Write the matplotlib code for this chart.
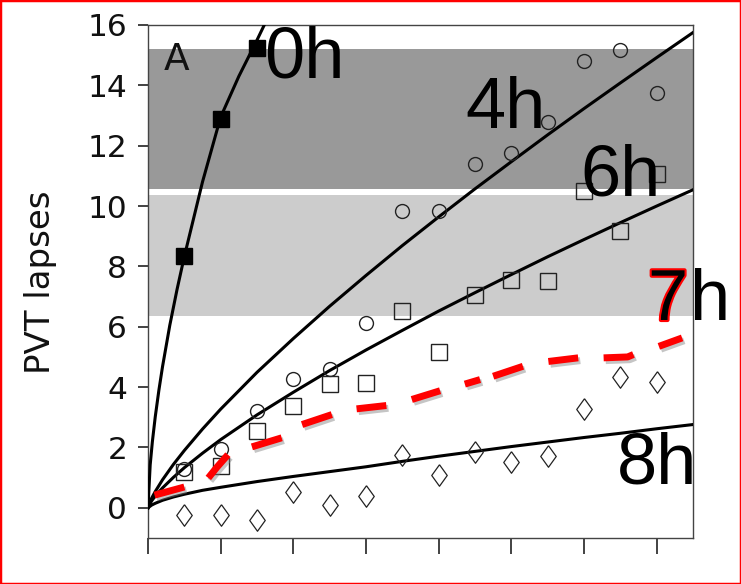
import numpy as np
import matplotlib.pyplot as plt
import matplotlib.patheffects as pe
import matplotlib.transforms as mtransforms
from matplotlib.patches import Rectangle

# Messzeitpunkte (Tage)
tage = np.arange(0.5, 7.5, 0.5)
tage_0h = [0.5, 1.0, 1.5]

# Messwerte PVT lapses
lapses_0h = [8.33, 12.9, 15.25]
lapses_4h = [1.3, 1.95, 3.2, 4.27, 4.61, 6.13, 9.82, 9.82, 11.4, 11.75, 12.8, 14.82, 15.18, 13.76]
lapses_6h = [1.2, 1.38, 2.54, 3.39, 4.1, 4.15, 6.51, 5.15, 7.06, 7.56, 7.53, 10.5, 9.19, 11.07]
lapses_8h = [-0.25, -0.25, -0.39, 0.53, 0.11, 0.38, 1.74, 1.08, 1.85, 1.51, 1.71, 3.28, 4.33, 4.17]

# Angepasste Kurven
kurve0_x = [0, 0.03, 0.06, 0.1, 0.15, 0.2, 0.3, 0.4, 0.5, 0.75, 1.0, 1.25, 1.5, 1.65]
kurve_0h = [0, 1.42, 2.19, 3.02, 3.9, 4.68, 6.05, 7.24, 8.33, 10.8, 12.95, 14.3, 15.5, 16.25]
kurve_x = [0, 0.05, 0.1, 0.2, 0.35, 0.5, 0.75, 1, 1.5, 2, 2.5, 3, 3.5, 4, 4.5, 5, 5.5, 6, 6.5, 7, 7.5]
kurve_4h = [0, 0.32, 0.54, 0.93, 1.44, 1.90, 2.61, 3.27, 4.49, 5.61, 6.68, 7.70, 8.69, 9.64,
            10.57, 11.47, 12.36, 13.23, 14.08, 14.92, 15.75]
kurve_6h = [0, 0.23, 0.39, 0.66, 1.01, 1.33, 1.81, 2.26, 3.08, 3.83, 4.55, 5.23, 5.88, 6.52,
            7.13, 7.73, 8.32, 8.89, 9.45, 10.00, 10.54]
kurve_8h = [0, 0.09, 0.15, 0.25, 0.36, 0.45, 0.58, 0.68, 0.87, 1.04, 1.20, 1.36, 1.54, 1.71,
            1.87, 2.03, 2.18, 2.33, 2.47, 2.62, 2.76]

# Von Hand eingezeichneter Verlauf fuer 7h, Striche durch nan getrennt
nan = np.nan
kurve7_x = [0.09, 0.5, nan, 0.83, 0.95, 1.1, nan, 1.43, 1.84, nan, 2.12, 2.53, nan,
            2.87, 3.28, nan, 3.63, 4.02, nan, 4.36, 4.57, nan, 4.75, 5.16, nan,
            5.51, 5.92, nan, 6.27, 6.6, 6.68, nan, 7.03, 7.35]
kurve_7h = [0.42, 0.69, nan, 0.99, 1.35, 1.76, nan, 2.02, 2.32, nan, 2.76, 3.09, nan,
            3.28, 3.39, nan, 3.59, 3.88, nan, 4.1, 4.25, nan, 4.36, 4.69, nan,
            4.85, 4.97, nan, 4.97, 5.0, 5.08, nan, 5.35, 5.63]

# Bereiche
band_dunkel = (10.55, 15.22)
band_hell = (6.35, 10.38)

W, H = 741, 584
fig = plt.figure(figsize=(W / 100, H / 100), dpi=100)
ax = fig.add_axes([148 / W, 1 - 538 / H, 545 / W, 513 / H])


def px(x, y):
    return x / W, 1 - y / H


ax.axhspan(*band_dunkel, color='#999999', lw=0, zorder=0)
ax.axhspan(*band_hell, color='#cccccc', lw=0, zorder=0)

ax.plot(kurve0_x, kurve_0h, color='black', lw=2.2, zorder=3)
ax.plot(kurve_x, kurve_4h, color='black', lw=2.2, zorder=3)
ax.plot(kurve_x, kurve_6h, color='black', lw=2.2, zorder=3)
ax.plot(kurve_x, kurve_8h, color='black', lw=2.2, zorder=3)

ax.plot(tage_0h, lapses_0h, 's', color='black', ms=11.5, zorder=4)
ax.plot(tage, lapses_4h, 'o', mfc='none', mec='#222222', mew=1.0, ms=10, zorder=4)
ax.plot(tage, lapses_6h, 's', mfc='none', mec='#222222', mew=1.0, ms=11.5, zorder=4)
raute = [(0, 1), (0.72, 0), (0, -1), (-0.72, 0), (0, 1)]
ax.plot(tage, lapses_8h, linestyle='none', marker=raute, mfc='none', mec='#222222',
        mew=0.9, ms=15.5, zorder=4)

# 7h mit leichtem Schatten
schatten = mtransforms.offset_copy(ax.transData, fig=fig, x=1.5, y=-2.0, units='points')
ax.plot(kurve7_x, kurve_7h, color='gray', alpha=0.45, lw=5, solid_capstyle='butt',
        transform=schatten, zorder=5)
ax.plot(kurve7_x, kurve_7h, color='red', lw=5, solid_capstyle='butt', zorder=5)

ax.set_xlim(0, 7.5)
ax.set_ylim(-1, 16)
ax.set_xticks(range(8))
ax.set_xticklabels([])
ax.set_yticks(range(0, 17, 2))
ax.tick_params(axis='x', direction='out', length=11.5, width=1.2, color='#222222')
ax.tick_params(axis='y', direction='out', length=7, width=1.2, color='#222222', pad=8,
               labelsize=22.5, labelcolor='#111111')
for s in ax.spines.values():
    s.set_color('#444444')
    s.set_linewidth(1.0)

fig.text(*px(41, 282), 'PVT lapses', rotation=90, ha='center', va='center',
         fontsize=24.5, color='#111111')
fig.text(*px(164, 70), 'A', fontsize=27, color='#111111', va='baseline', ha='left')

beschr = dict(fontsize=52, family=['Liberation Sans', 'DejaVu Sans'], va='baseline',
              ha='left', color='black', zorder=10)
fig.text(*px(264, 78), '0h', **beschr)
fig.text(*px(465, 128), '4h', **beschr)
fig.text(*px(580, 195), '6h', **beschr)
fig.text(*px(617, 483), '8h', **beschr)
t7 = fig.text(*px(648, 320), '7', **beschr)
t7.set_path_effects([pe.Stroke(linewidth=3, foreground='red'), pe.Normal()])
fig.text(*px(690, 320), 'h', **beschr)

fig.patches.append(Rectangle((0, 0), 1, 1, transform=fig.transFigure, fill=False,
                             edgecolor='red', lw=2.5))

fig.savefig('out.png', dpi=100)
